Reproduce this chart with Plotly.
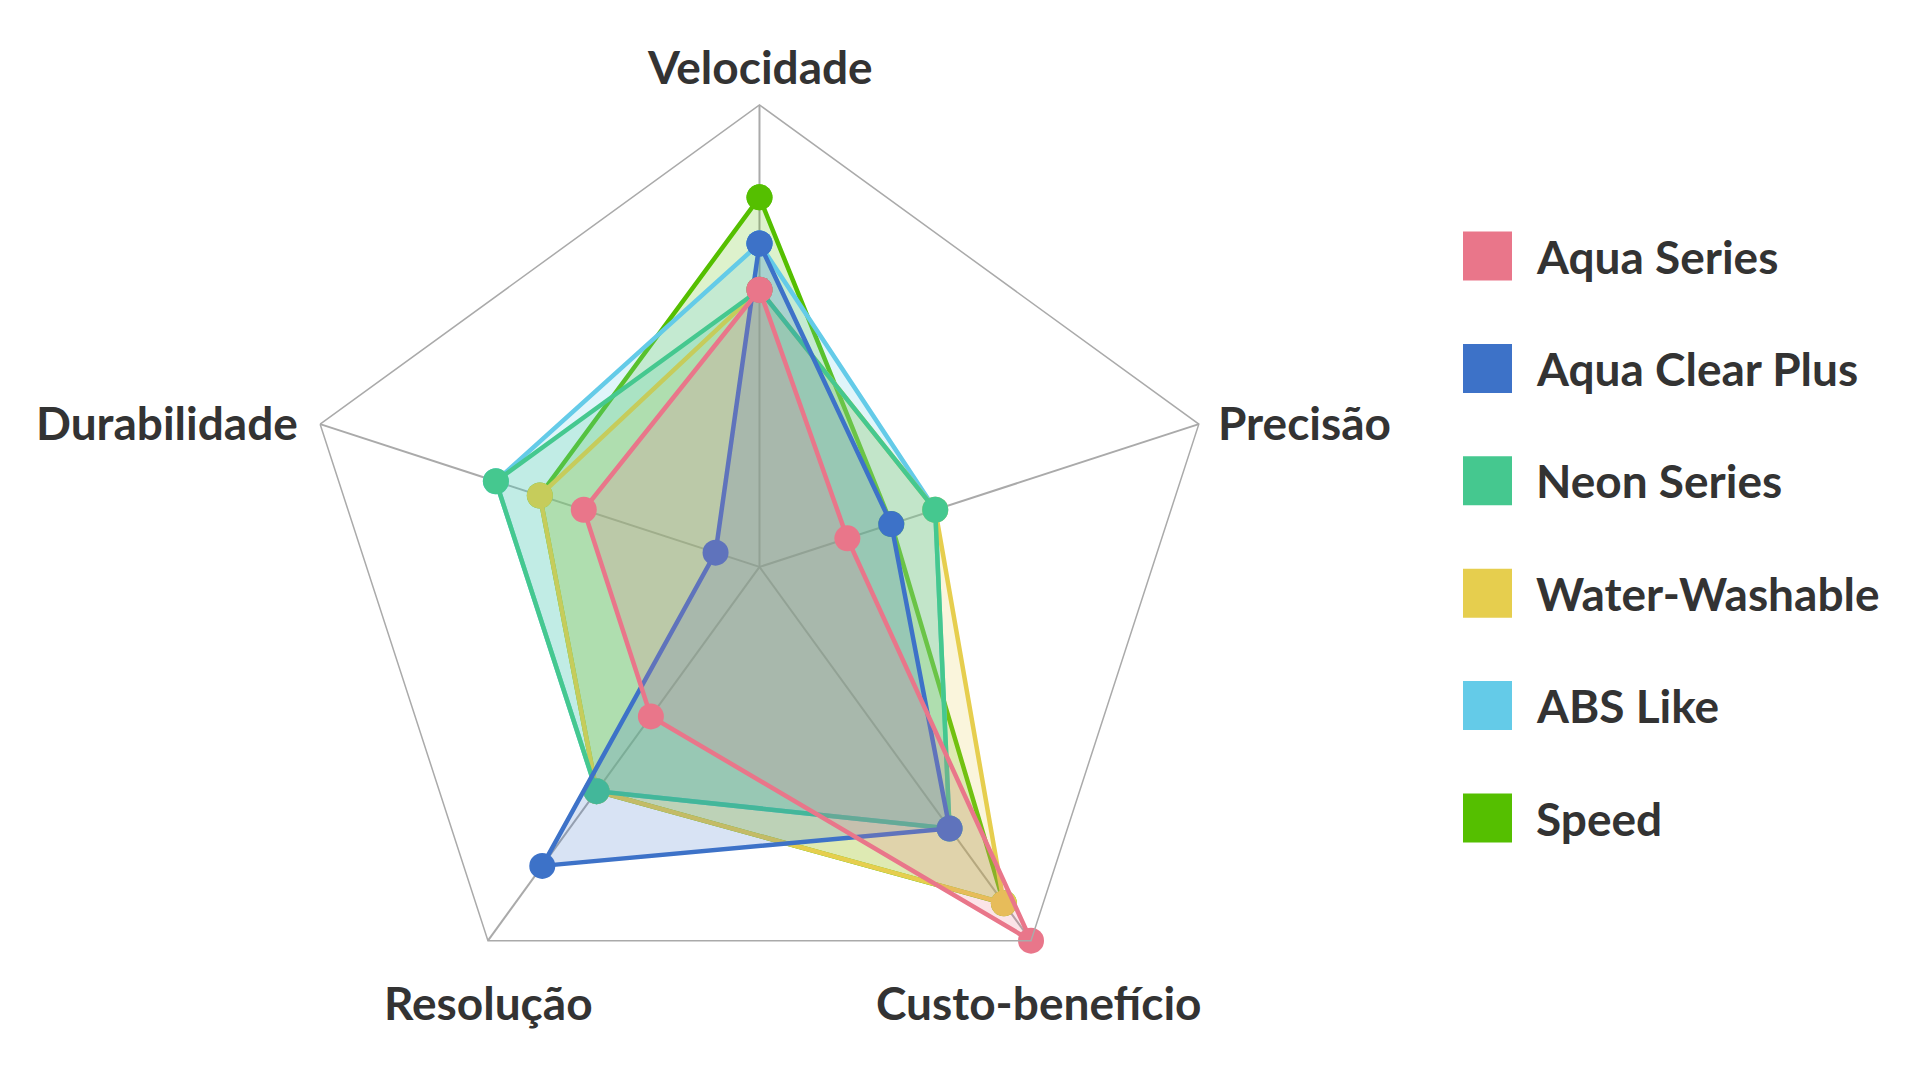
import math
import plotly.graph_objects as go

# eixos do radar (sentido horario a partir do topo)
categorias = ["Velocidade", "Precisão", "Custo-benefício", "Resolução", "Durabilidade"]

series = ["Aqua Series", "Aqua Clear Plus", "Neon Series", "Water-Washable", "ABS Like", "Speed"]
aqua_series = [0.6, 0.2, 1.0, 0.4, 0.4]
aqua_clear_plus = [0.7, 0.3, 0.7, 0.8, 0.1]
neon_series = [0.6, 0.4, 0.7, 0.6, 0.6]
water_washable = [0.6, 0.4, 0.9, 0.6, 0.5]
abs_like = [0.7, 0.4, 0.7, 0.6, 0.6]
speed = [0.8, 0.3, 0.9, 0.6, 0.5]

valores = [aqua_series, aqua_clear_plus, neon_series, water_washable, abs_like, speed]
cores = ["#E9768A", "#3D72C8", "#45C88F", "#E6CE4E", "#64CBE8", "#55BF00"]

W, H = 1920, 1080
FONTE = "Lato"
TAM = 46


def rgba(hexcor, a):
    h = hexcor.lstrip("#")
    r, g, b = int(h[0:2], 16), int(h[2:4], 16), int(h[4:6], 16)
    return f"rgba({r},{g},{b},{a})"


fig = go.Figure()

# a primeira serie fica por cima -> desenha em ordem inversa
for nome, vals, cor in reversed(list(zip(series, valores, cores))):
    fig.add_trace(go.Scatterpolar(
        r=vals + vals[:1],
        theta=categorias + categorias[:1],
        name=nome,
        mode="lines+markers",
        fill="toself",
        fillcolor=rgba(cor, 0.2),
        line=dict(color=cor, width=4.5),
        marker=dict(color=cor, size=26),
        showlegend=False,
    ))

fig.update_layout(
    width=W,
    height=H,
    margin=dict(l=0, r=0, t=0, b=0),
    paper_bgcolor="white",
    font=dict(family=FONTE, color="#333333"),
    polar=dict(
        domain=dict(x=[0.1508, 0.6320], y=[0.0545, 0.9105]),
        gridshape="linear",
        bgcolor="white",
        radialaxis=dict(range=[0, 1], showgrid=False, showline=False,
                        showticklabels=False, ticks=""),
        angularaxis=dict(direction="clockwise", rotation=90,
                         showline=True, linecolor="#aaaaaa", linewidth=1.5,
                         showgrid=True, gridcolor="#aaaaaa", gridwidth=1.5,
                         ticks="", showticklabels=False),
    ),
)

# rotulos dos eixos posicionados junto aos vertices
cx, cy, R = 759, 566, 462
ajustes = [  # xanchor, xshift, yshift
    ("center", -7, 46),
    ("left", 10, 9),
    ("center", 0, -55),
    ("center", -7, -55),
    ("right", -28, 9),
]
for i, (cat, (xa, dx, dy)) in enumerate(zip(categorias, ajustes)):
    ang = math.radians(90 - 72 * i)
    vx = cx + R * math.cos(ang)
    vy = cy - R * math.sin(ang)
    fig.add_annotation(x=vx / W, y=1 - vy / H, xref="paper", yref="paper",
                       xanchor=xa, yanchor="middle", xshift=dx, yshift=dy,
                       showarrow=False, text=cat,
                       font=dict(size=TAM, weight=700, color="#333333", family=FONTE))

# legenda manual com quadrados grandes
y0 = 1 - 248 / H
passo = 112.4 / H
for i, (nome, cor) in enumerate(zip(series, cores)):
    yc = y0 - i * passo
    fig.add_shape(type="rect", xref="paper", yref="paper",
                  x0=1455 / W, x1=1504 / W,
                  y0=yc - 24.5 / H, y1=yc + 24.5 / H,
                  fillcolor=cor, line=dict(width=0))
    fig.add_annotation(x=1526 / W, y=yc, xref="paper", yref="paper",
                       xanchor="left", yanchor="middle", showarrow=False,
                       text=nome,
                       font=dict(size=TAM, weight=700, color="#333333", family=FONTE))

fig.write_html("out.html")
